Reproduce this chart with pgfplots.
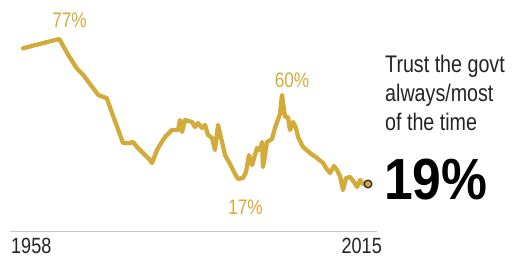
\documentclass[border=0pt]{standalone}
\usepackage{pgfplots}
\pgfplotsset{compat=1.18}
\usepackage{fontspec}
\setmainfont{Liberation Sans}[FakeStretch=0.82]
\newfontfamily\bigfont{Liberation Sans}[FakeStretch=0.89]
\definecolor{gold}{RGB}{211,171,58}
\definecolor{txt}{RGB}{35,35,35}
\begin{document}
\begin{tikzpicture}
\path[use as bounding box] (0,0) rectangle (513bp,258bp);
\begin{axis}[
 at={(10bp,26.5bp)}, anchor=south west,
 scale only axis, width=367.1bp, height=200bp,
 xmin=1955.85, xmax=2016.5, ymin=0, ymax=80,
 axis x line*=bottom, axis y line=none,
 x axis line style={draw=black!22, line width=1.5bp},
 xtick=\empty, ytick=\empty,
 clip=false,
]
\addplot[gold, line width=4.3bp, line join=round, line cap=round] coordinates {
(1958.00,73.3) (1964.00,77.0) (1965.48,70.6) (1966.87,65.3) (1967.96,62.6)
(1970.44,54.6) (1971.83,53.3) (1974.52,35.4) (1975.68,35.4) (1976.17,35.8)
(1976.83,33.8) (1978.98,28.6) (1979.31,27.4) (1980.14,32.6) (1981.13,36.6)
(1981.46,37.8) (1982.62,40.6) (1983.61,40.6) (1983.94,44.6) (1984.27,39.8)
(1984.77,44.6) (1985.92,43.8) (1986.42,41.8) (1986.91,43.4) (1987.57,41.4)
(1988.07,42.6) (1988.57,38.6) (1989.23,37.4) (1989.72,32.6) (1990.22,42.6)
(1990.88,35.8) (1991.37,30.6) (1992.20,27.0) (1993.03,23.0) (1993.52,21.0)
(1994.35,21.4) (1994.84,23.8) (1995.34,30.6) (1995.84,26.6) (1996.66,33.4)
(1997.16,32.6) (1997.49,35.8) (1997.65,25.8) (1998.31,35.8) (1999.14,37.0)
(1999.63,41.4) (2000.46,47.0) (2000.79,54.6) (2001.29,45.8) (2001.78,45.8)
(2002.11,40.6) (2002.61,43.8) (2003.10,41.4) (2003.44,37.8) (2004.26,33.8)
(2005.42,31.4) (2006.57,29.4) (2007.57,27.4) (2008.06,25.4) (2008.72,23.4)
(2009.38,26.2) (2009.88,24.6) (2010.37,22.2) (2010.87,16.6) (2011.37,21.4)
(2012.03,21.8) (2012.69,19.8) (2013.18,17.8) (2013.68,20.6) (2014.17,19.0)
(2015.00,19.0)
};
\addplot[only marks, mark=*, mark size=3.8bp, mark options={fill=gold, draw=black!85, line width=1.3bp}] coordinates {(2015,19)};
\end{axis}
% direct labels
\node[gold, inner sep=0pt, font=\fontsize{21bp}{21bp}\selectfont] at (69.5bp,237.5bp) {77\%};
\node[gold, inner sep=0pt, font=\fontsize{21bp}{21bp}\selectfont] at (292bp,178bp) {60\%};
\node[gold, inner sep=0pt, font=\fontsize{21bp}{21bp}\selectfont] at (245.5bp,50.5bp) {17\%};
% axis end labels
\node[txt, inner sep=0pt, anchor=base west, font=\fontsize{22bp}{22bp}\selectfont] at (11bp,5bp) {1958};
\node[txt, inner sep=0pt, anchor=base east, font=\fontsize{22bp}{22bp}\selectfont] at (382bp,5bp) {2015};
% side annotation
\node[txt, inner sep=0pt, anchor=base west, font=\fontsize{24bp}{24bp}\selectfont] at (385bp,185bp) {Trust the govt};
\node[txt, inner sep=0pt, anchor=base west, font=\fontsize{24bp}{24bp}\selectfont] at (385bp,156bp) {always/most};
\node[txt, inner sep=0pt, anchor=base west, font=\fontsize{24bp}{24bp}\selectfont] at (385bp,127bp) {of the time};
\node[black, inner sep=0pt, anchor=base west, font=\bigfont\bfseries\fontsize{58bp}{58bp}\selectfont] at (384bp,58bp) {19\%};
\end{tikzpicture}
\end{document}
